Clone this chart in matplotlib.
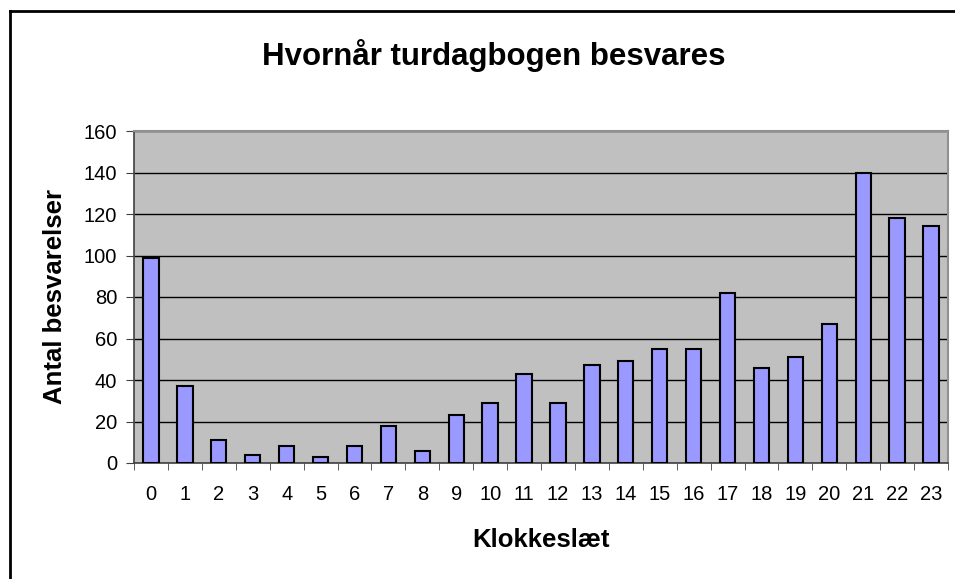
import numpy as np
import matplotlib.pyplot as plt
from matplotlib.lines import Line2D

plt.rcParams['font.family'] = ['Liberation Sans', 'DejaVu Sans']

# hour of day and number of answers
hours = list(range(24))
answers = [99, 37, 11, 4, 8, 3, 8, 18, 6, 23, 29, 43,
           29, 47, 49, 55, 55, 82, 46, 51, 67, 140, 118, 114]
yticks = [0, 20, 40, 60, 80, 100, 120, 140, 160]

fig = plt.figure(figsize=(9.55, 5.79), dpi=100)
ax = fig.add_axes([134/955, 116/579, 814/955, 332/579])

ax.set_facecolor('#c0c0c0')
ax.bar(hours, answers, width=0.45, color='#9999ff', edgecolor='black', linewidth=1.5, zorder=3)

ax.set_xlim(-0.5, 23.5)
ax.set_ylim(0, 160)
ax.set_yticks(yticks)
ax.yaxis.grid(True, color='black', linewidth=1, zorder=1)
ax.set_axisbelow(True)

ax.set_xticks(hours)
ax.set_xticklabels([str(h) for h in hours])
ax.set_xticks(np.arange(-0.5, 24, 1), minor=True)
ax.tick_params(axis='x', which='major', length=0, pad=16, labelsize=14.5)
ax.tick_params(axis='x', which='minor', length=5, color='#404040')
ax.tick_params(axis='y', length=6, pad=6, labelsize=14.5, color='#404040')

for s in ['top', 'right']:
    ax.spines[s].set_color('#909090')
    ax.spines[s].set_linewidth(1.5)
for s in ['left', 'bottom']:
    ax.spines[s].set_color('#404040')
    ax.spines[s].set_linewidth(1.2)

ax.set_xlabel('Klokkeslæt', fontsize=18.5, fontweight='bold', va='center')
ax.xaxis.set_label_coords(0.5, (463 - 540) / 332)
ax.set_ylabel('Antal besvarelser', fontsize=18.5, fontweight='bold', va='center', ha='center')
ax.yaxis.set_label_coords((55 - 134) / 814, 0.5)
fig.text(494/955, 1 - 55/579, 'Hvornår turdagbogen besvares', fontsize=22.5,
         fontweight='bold', ha='center', va='center')

# outer chart frame (only left and top edges show)
fig.add_artist(Line2D([10/955, 10/955], [0, 1 - 11/579], color='black', linewidth=2, transform=fig.transFigure))
fig.add_artist(Line2D([10/955, 1], [1 - 11/579, 1 - 11/579], color='black', linewidth=2, transform=fig.transFigure))

fig.savefig('out.png', dpi=100)
